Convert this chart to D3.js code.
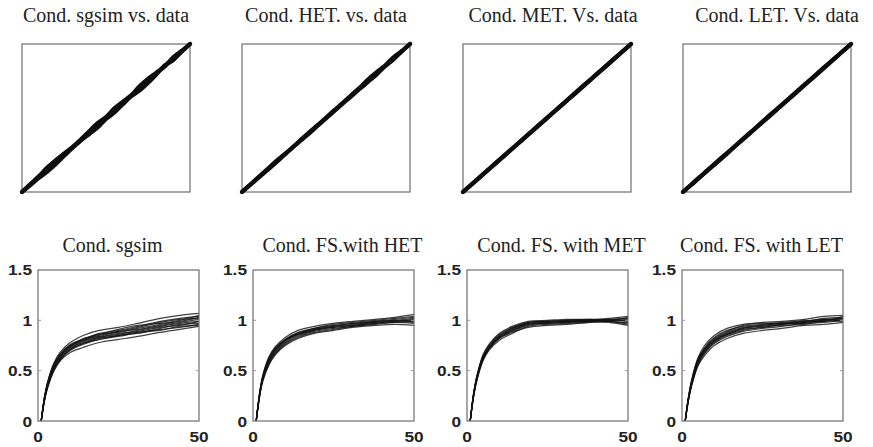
<!DOCTYPE html>
<html>
<head>
<meta charset="utf-8">
<script src="https://cdn.jsdelivr.net/npm/d3@7"></script>
<style>
  body { margin: 0; background: #fff; }
  .box { fill: none; stroke: #6e6e6e; stroke-width: 1.2; }
  .ttl { font-family: "Liberation Serif", "Times New Roman", serif; font-size: 20px; fill: #222; }
  .tick-lbl { font-family: "Liberation Sans", Arial, sans-serif; font-size: 15px; font-weight: bold; fill: #222; }
</style>
</head>
<body>
<div id="chart"></div>
<script>
var w = 873, h = 447;

// titles
var topTitles = ["Cond. sgsim vs. data", "Cond. HET. vs. data", "Cond. MET. Vs. data", "Cond. LET. Vs. data"];
var bottomTitles = ["Cond. sgsim", "Cond. FS.with HET", "Cond. FS. with MET", "Cond. FS. with LET"];

// Q-Q plots (realisation quantiles vs data quantiles), two traces per panel
var qqGrid = [0, .05, .10, .15, .20, .25, .30, .35, .40, .45, .50, .55, .60, .65, .70, .75, .80, .85, .90, .95, 1];
var qqSgsim = [
  [0, .053, .106, .165, .214, .259, .303, .354, .410, .466, .506, .565, .609, .653, .715, .764, .806, .849, .910, .953, 1],
  [0, .047, .095, .137, .188, .243, .297, .347, .392, .437, .494, .537, .593, .647, .687, .738, .795, .855, .892, .947, 1]
];
var qqHet = [
  [0, .051, .102, .153, .205, .252, .301, .352, .404, .452, .502, .553, .602, .654, .704, .760, .808, .852, .908, .951, 1],
  [0, .049, .098, .147, .196, .248, .299, .348, .396, .448, .498, .547, .598, .646, .696, .744, .793, .848, .894, .949, 1]
];
var qqMet = [
  [0, .051, .101, .151, .202, .251, .301, .351, .401, .452, .501, .551, .601, .652, .702, .752, .801, .851, .901, .951, 1],
  [0, .049, .099, .149, .198, .249, .299, .349, .399, .448, .499, .549, .599, .648, .698, .748, .799, .849, .899, .949, 1]
];
var qqLet = [
  [0, .051, .102, .151, .203, .252, .301, .352, .402, .451, .503, .552, .601, .652, .702, .752, .802, .852, .901, .951, 1],
  [0, .049, .098, .149, .197, .247, .299, .348, .398, .449, .497, .548, .599, .648, .698, .748, .798, .848, .899, .949, 1]
];

// variograms: lag values and realisation curves
var lagX = [1, 2, 3, 5, 7, 10, 14, 19, 25, 31, 38, 44, 50];
var varSgsim = [
  [0, .24, .39, .58, .69, .78, .85, .90, .93, .97, 1.02, 1.05, 1.07],
  [0, .20, .33, .50, .60, .68, .73, .78, .81, .84, .88, .91, .94],
  [0, .23, .37, .55, .66, .75, .82, .86, .91, .95, .97, .99, 1.03],
  [0, .21, .35, .52, .62, .71, .77, .82, .85, .87, .92, .96, .97],
  [0, .22, .37, .56, .65, .74, .80, .86, .88, .92, .96, 1.00, 1.05],
  [0, .21, .34, .53, .63, .72, .79, .83, .87, .89, .93, .95, .99],
  [0, .23, .38, .57, .67, .76, .81, .84, .89, .93, .98, 1.01, 1.02],
  [0, .20, .34, .51, .61, .70, .76, .81, .84, .88, .91, .93, .96],
  [0, .22, .36, .54, .64, .74, .80, .85, .89, .91, .95, .98, 1.01],
  [0, .22, .36, .55, .65, .73, .78, .83, .86, .90, .94, .97, .99],
  [0, .23, .38, .56, .67, .75, .81, .87, .90, .94, .99, 1.02, 1.04],
  [0, .21, .35, .53, .62, .71, .77, .81, .85, .88, .90, .94, .95]
];
var varHet = [
  [0, .27, .45, .64, .74, .83, .90, .94, .97, .99, 1.01, 1.03, 1.06],
  [0, .23, .39, .56, .66, .75, .82, .87, .90, .93, .95, .96, .95],
  [0, .26, .43, .62, .72, .81, .88, .92, .95, .97, .99, 1.01, 1.03],
  [0, .24, .41, .58, .68, .77, .84, .89, .92, .94, .96, .98, .97],
  [0, .25, .42, .61, .71, .80, .87, .91, .94, .96, .99, 1.00, 1.02],
  [0, .25, .41, .59, .69, .78, .85, .90, .93, .95, .97, .98, .99],
  [0, .26, .44, .63, .73, .81, .87, .92, .96, .98, 1.00, 1.02, 1.04],
  [0, .24, .40, .57, .67, .76, .83, .88, .91, .94, .97, .99, 1.00],
  [0, .25, .42, .60, .70, .79, .86, .91, .93, .95, .98, .99, 1.01],
  [0, .25, .43, .61, .71, .80, .86, .90, .94, .97, .98, 1.00, .98]
];
var varMet = [
  [0, .27, .44, .66, .77, .87, .94, .99, 1.00, 1.01, 1.01, 1.02, 1.04],
  [0, .23, .39, .60, .71, .80, .87, .94, .96, .97, .98, .98, .95],
  [0, .26, .43, .64, .75, .85, .92, .98, .99, 1.00, 1.00, 1.01, 1.02],
  [0, .24, .41, .62, .73, .83, .90, .96, .97, .98, .99, .99, .97],
  [0, .25, .42, .63, .74, .84, .91, .97, .98, .99, 1.00, 1.00, 1.01],
  [0, .25, .42, .63, .73, .83, .90, .96, .98, .99, .99, 1.01, .99],
  [0, .26, .43, .65, .76, .86, .93, .98, .99, 1.00, 1.01, 1.00, 1.03],
  [0, .24, .40, .61, .72, .82, .89, .95, .97, .98, .99, .99, .98],
  [0, .25, .42, .62, .74, .84, .92, .97, .99, .99, 1.00, 1.00, 1.00],
  [0, .24, .41, .62, .73, .82, .88, .93, .95, .96, .98, .99, .96]
];
var varLet = [
  [0, .24, .41, .63, .75, .85, .92, .96, .98, .99, 1.01, 1.04, 1.05],
  [0, .20, .35, .55, .65, .75, .82, .87, .90, .92, .95, .96, .98],
  [0, .23, .40, .61, .73, .83, .90, .94, .96, .98, .99, 1.02, 1.03],
  [0, .21, .36, .57, .67, .77, .84, .89, .92, .94, .97, .98, 1.00],
  [0, .22, .38, .60, .71, .81, .88, .93, .95, .97, .98, 1.00, 1.02],
  [0, .22, .37, .58, .69, .79, .86, .91, .93, .96, .99, 1.01, .99],
  [0, .23, .39, .62, .72, .82, .89, .95, .97, .97, 1.00, .99, 1.04],
  [0, .21, .36, .56, .68, .78, .85, .90, .93, .95, .96, .99, 1.00],
  [0, .22, .38, .59, .70, .80, .87, .92, .94, .96, .98, 1.00, 1.01],
  [0, .23, .38, .60, .71, .80, .86, .92, .95, .97, .97, 1.01, 1.02]
];

var yTicks = [0, 0.5, 1, 1.5];
var xTicks = [0, 50];

var qqData = [qqSgsim, qqHet, qqMet, qqLet];
var varData = [varSgsim, varHet, varMet, varLet];

var topL = [22, 242, 463, 683], topW = 168, topY = 44, topH = 148;
var botL = [38, 253, 467, 682], botW = 161, botY = 270, botH = 151;
var topTitleDx = [0, 0, 6, 10], botTitleDx = [-6, 9, 14, -1];

var svg = d3.select("#chart").append("svg")
    .attr("width", w).attr("height", h);

// top row: Q-Q plots
topTitles.forEach(function (title, i) {
    var g = svg.append("g").attr("transform", "translate(" + topL[i] + "," + topY + ")");
    var x = d3.scaleLinear().domain([0, 1]).range([0, topW]);
    var y = d3.scaleLinear().domain([0, 1]).range([topH, 0]);

    g.append("rect").attr("class", "box").attr("width", topW).attr("height", topH);

    var line = d3.line().x(function (d, k) { return x(qqGrid[k]); }).y(function (d) { return y(d); })
        .curve(d3.curveCatmullRom);
    g.selectAll("path.qq").data(qqData[i]).enter().append("path")
        .attr("class", "qq")
        .attr("d", line)
        .attr("fill", "none")
        .attr("stroke", "#0d0d0d")
        .attr("stroke-width", 4.2)
        .attr("stroke-linecap", "round")
        .attr("stroke-linejoin", "round");

    svg.append("text").attr("class", "ttl")
        .attr("x", topL[i] + topW / 2 + topTitleDx[i]).attr("y", 22)
        .attr("text-anchor", "middle").text(title);
});

// bottom row: variogram ensembles
bottomTitles.forEach(function (title, i) {
    var g = svg.append("g").attr("transform", "translate(" + botL[i] + "," + botY + ")");
    var x = d3.scaleLinear().domain([0, 50]).range([0, botW]);
    var y = d3.scaleLinear().domain([0, 1.5]).range([botH, 0]);

    var line = d3.line()
        .x(function (d, k) { return x(lagX[k]); })
        .y(function (d) { return y(d); })
        .curve(d3.curveCatmullRom);

    g.selectAll("path.vg").data(varData[i]).enter().append("path")
        .attr("class", "vg")
        .attr("d", line)
        .attr("fill", "none")
        .attr("stroke", "#111")
        .attr("stroke-width", 1.2)
        .attr("stroke-opacity", 0.8);

    g.append("rect").attr("class", "box").attr("width", botW).attr("height", botH);

    // small inner ticks, matlab style
    yTicks.slice(1, 3).forEach(function (v) {
        g.append("line").attr("x1", 0).attr("x2", 3).attr("y1", y(v)).attr("y2", y(v)).attr("stroke", "#999");
        g.append("line").attr("x1", botW).attr("x2", botW - 3).attr("y1", y(v)).attr("y2", y(v)).attr("stroke", "#999");
    });

    yTicks.forEach(function (v) {
        g.append("text").attr("class", "tick-lbl")
            .attr("text-anchor", "end")
            .attr("dy", "0.36em")
            .attr("transform", "translate(-6," + (y(v) + (v === 0 ? 1 : 0)) + ") scale(1.15,1)")
            .text(v);
    });
    xTicks.forEach(function (v) {
        g.append("text").attr("class", "tick-lbl")
            .attr("text-anchor", "middle")
            .attr("dy", "0.8em")
            .attr("transform", "translate(" + x(v) + "," + (botH + 9) + ") scale(1.15,1)")
            .text(v);
    });

    svg.append("text").attr("class", "ttl")
        .attr("x", botL[i] + botW / 2 + botTitleDx[i]).attr("y", 252)
        .attr("text-anchor", "middle").text(title);
});
</script>
</body>
</html>
